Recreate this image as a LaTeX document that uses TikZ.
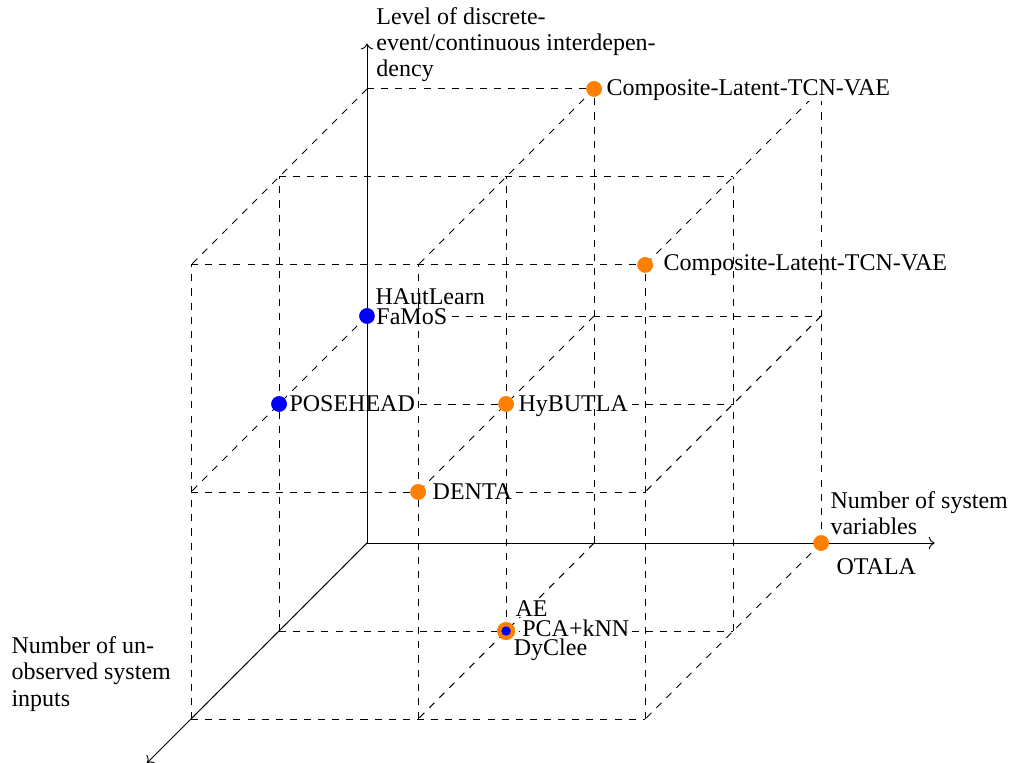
\documentclass[tikz,border=0pt]{standalone}
\usepackage{fontspec}
\setmainfont{Liberation Serif}
\usetikzlibrary{arrows.meta}
\begin{document}
\begin{tikzpicture}[
    x={(96.5pt,0pt)}, y={(0pt,96.5pt)}, z={(-37.4pt,-37.4pt)},
    font=\fontsize{10.2}{11.2}\selectfont,
    grid/.style={dashed, line width=0.4pt},
    axis/.style={->, line width=0.4pt},
    odot/.style={circle, fill=orange, inner sep=0pt, minimum size=6.6pt},
    bdot/.style={circle, fill=blue, inner sep=0pt, minimum size=6.6pt},
    lbl/.style={inner xsep=1pt, inner ysep=0pt, fill=white, anchor=base west},
    axlbl/.style={inner sep=0pt, anchor=north west, align=left}
  ]
  \useasboundingbox (-156pt,-93.1pt) rectangle (277.1pt,230.8pt);

  % dashed 2x2x2 lattice: lines along the horizontal and the depth directions
  \foreach \i in {0,1,2} {
    \foreach \j in {0,1,2} {
      \draw[grid] (0,\i,\j) -- (2,\i,\j);
      \draw[grid] (\i,\j,0) -- (\i,\j,2);
    }
  }

  % method points
  \node[odot] (c1) at (1,2,0) {};
  \node[odot] (c2) at (2,2,2) {};
  \node[bdot] (famos) at (0,1,0) {};
  \node[bdot] (pose) at (0,1,1) {};
  \node[odot] (hybutla) at (1,1,1) {};
  \node[odot] (denta) at (1,1,2) {};
  \node[odot] (otala) at (2,0,0) {};
  \node[circle, fill=orange, inner sep=0pt, minimum size=7.6pt] (ae) at (1,0,1) {};

  % method names
  \node[lbl] (tc2) at ([shift={(6.65pt,-2.55pt)}]c2.center) {Composite-Latent-TCN-VAE};
  \node[lbl] (thaut) at ([shift={(2.4pt,4.7pt)}]famos.center) {HAutLearn};
  \node[lbl] (tfamos) at ([shift={(2.8pt,-3.8pt)}]famos.center) {FaMoS};
  \node[lbl] (tpose) at ([shift={(3.25pt,-3.3pt)}]pose.center) {POSEHEAD};
  \node[lbl] (thyb) at ([shift={(4.1pt,-3pt)}]hybutla.center) {HyBUTLA};
  \node[lbl] (tdenta) at ([shift={(5pt,-3.1pt)}]denta.center) {DENTA};
  \node[lbl] (totala) at ([shift={(5.4pt,-13.3pt)}]otala.center) {OTALA};
  \node[lbl] (tae) at ([shift={(2.8pt,6.1pt)}]ae.center) {AE};
  \node[lbl] (tpca) at ([shift={(5.7pt,-2.4pt)}]ae.center) {PCA+kNN};
  \node[lbl] (tdy) at ([shift={(2.1pt,-10.2pt)}]ae.center) {DyClee};

  % vertical lattice lines
  \foreach \i in {0,1,2} {
    \foreach \j in {0,1,2} {
      \draw[grid] (\i,0,\j) -- (\i,2,\j);
    }
  }
  \node[lbl] (tc1) at ([shift={(4.1pt,-3pt)}]c1.center) {Composite-Latent-TCN-VAE};

  % axes
  \coordinate (O) at (0,0,0);
  \coordinate (Xend) at (2.5,0,0);
  \coordinate (Yend) at (0,2.2,0);
  \coordinate (Zend) at (0,0,2.5);
  \draw[axis] (O) -- (Xend);
  \draw[axis] (O) -- (Yend);
  \draw[axis] (O) -- (Zend);

  \node[axlbl] (ylab) at (3.8pt,227.9pt)
    {Level of discrete-\\event/continuous interdepen-\\dency};
  \node[axlbl] (xlab) at (196.8pt,22.1pt) {Number of system\\variables};
  \node[axlbl] (zlab) at (-151.3pt,-39.5pt) {Number of un-\\observed system\\inputs};

  % points drawn above the lines
  \node[odot] (c1b) at (c1) {};
  \node[odot] (c2b) at (c2) {};
  \node[bdot] (famosb) at (famos) {};
  \node[bdot] (poseb) at (pose) {};
  \node[odot] (hybutlab) at (hybutla) {};
  \node[odot] (dentab) at (denta) {};
  \node[odot] (otalab) at (otala) {};
  \node[circle, fill=orange, inner sep=0pt, minimum size=7.6pt] (aeb) at (ae) {};
  \node[circle, fill=blue, inner sep=0pt, minimum size=4pt] (pca) at (ae.center) {};
\end{tikzpicture}
\end{document}
